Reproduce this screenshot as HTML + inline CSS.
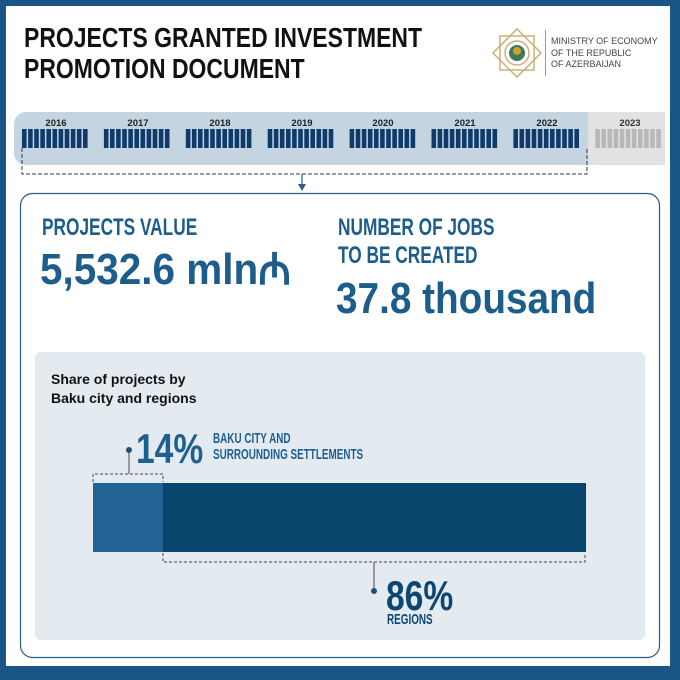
<!DOCTYPE html>
<html><head><meta charset="utf-8"><style>
*{margin:0;padding:0;box-sizing:border-box}
body{width:680px;height:680px;background:#1b5585;position:relative;overflow:hidden;font-family:"Liberation Sans",sans-serif}
.a{position:absolute}
.c{transform-origin:0 0;white-space:nowrap;font-weight:bold}
</style></head><body>
<div class="a" style="left:6px;top:6px;width:664px;height:660px;background:#fff"></div>
<div class="a c" style="left:24px;top:22px;font-size:28px;line-height:31px;color:#111;transform:scaleX(0.82)">PROJECTS GRANTED INVESTMENT<br>PROMOTION DOCUMENT</div>
<svg class="a" style="left:490px;top:26px" width="54" height="54" viewBox="0 0 54 54"><g fill="none" stroke="#c8b27a" stroke-width="1.5"><rect x="10" y="10" width="34" height="34"/><rect x="10" y="10" width="34" height="34" transform="rotate(45 27 27)"/><circle cx="27" cy="27" r="12"/></g><circle cx="27" cy="27" r="8" fill="#3a7a5a"/><circle cx="27" cy="25" r="4" fill="#d0a030"/></svg>
<div class="a" style="left:545px;top:30px;width:1px;height:46px;background:#999"></div>
<div class="a" style="left:551px;top:36px;font-size:9px;line-height:11.5px;color:#444">MINISTRY OF ECONOMY<br>OF THE REPUBLIC<br>OF AZERBAIJAN</div>
<div class="a" style="left:14px;top:112px;width:580px;height:53px;background:#c4d5e1;border-radius:12px 0 0 12px"></div>
<div class="a" style="left:588px;top:112px;width:77px;height:53px;background:#e2e2e2"></div>
<svg class="a" style="left:0;top:0" width="680" height="680">
<g font-family="Liberation Sans" font-weight="bold" font-size="9.5" text-anchor="middle" fill="#222">
<text x="56" y="126">2016</text><text x="138" y="126">2017</text><text x="220" y="126">2018</text><text x="302" y="126">2019</text><text x="383" y="126">2020</text><text x="465" y="126">2021</text><text x="547" y="126">2022</text><text x="630" y="126" fill="#333">2023</text></g>
<g id="bars"></g>
<path d="M22 148 V174 H587 V148" fill="none" stroke="#336" stroke-width="1" stroke-dasharray="4 2"/>
<line x1="302" y1="174" x2="302" y2="186" stroke="#2a5d8a" stroke-width="1.2"/>
<path d="M298 184 L306 184 L302 191Z" fill="#2a5d8a"/>
<rect x="20.5" y="193.5" width="639" height="464" rx="12" fill="#fff" stroke="#2a5d8a" stroke-width="1.2"/>
<rect x="35" y="352" width="610" height="288" rx="6" fill="#e3ebf1"/>
<path d="M93 482 V474 H163 V482" fill="none" stroke="#445" stroke-dasharray="3 2"/>
<line x1="129" y1="474" x2="129" y2="452" stroke="#445"/><circle cx="129" cy="450" r="3" fill="#1f4f77"/>
<rect x="93" y="483" width="70" height="69" fill="#216494"/>
<rect x="163" y="483" width="423" height="69" fill="#08466e"/>
<path d="M163 553 V562 H585 V553" fill="none" stroke="#445" stroke-dasharray="3 2"/>
<line x1="374" y1="562" x2="374" y2="590" stroke="#445"/><circle cx="374" cy="591" r="3" fill="#1f4f77"/>
</svg>
<div class="a c" style="left:42px;top:214px;font-size:24px;color:#1c5d8c;transform:scaleX(0.72)">PROJECTS VALUE</div>
<div class="a c" style="left:40px;top:237px;font-size:44px;color:#1c5d8c;transform:scaleX(0.92)">5,532.6 mln₼</div>
<div class="a c" style="left:338px;top:214px;font-size:24px;line-height:28px;color:#1c5d8c;transform:scaleX(0.72)">NUMBER OF JOBS<br>TO BE CREATED</div>
<div class="a c" style="left:336px;top:274px;font-size:44px;color:#1c5d8c;transform:scaleX(0.88)">37.8 thousand</div>
<div class="a" style="left:51px;top:370px;font-size:14px;line-height:19px;font-weight:bold;color:#111">Share of projects by<br>Baku city and regions</div>
<div class="a c" style="left:136px;top:425px;font-size:42px;color:#1f5f90;transform:scaleX(0.8)">14%</div>
<div class="a c" style="left:213px;top:431px;font-size:15px;line-height:16px;color:#1f5f90;transform:scaleX(0.66)">BAKU CITY AND<br>SURROUNDING SETTLEMENTS</div>
<div class="a c" style="left:386px;top:572px;font-size:42px;color:#0d4670;transform:scaleX(0.8)">86%</div>
<div class="a c" style="left:387px;top:611px;font-size:15px;color:#0d4670;transform:scaleX(0.66)">REGIONS</div>
<script>
var g=document.getElementById('bars'),s='';
for(var y=0;y<8;y++){var x0=22+y*81.9;var col=y<7?'#0f3a6a':'#b8b8b8';for(var i=0;i<11;i++){s+='<rect x="'+(x0+i*6.1)+'" y="129" width="4.6" height="19" fill="'+col+'"/>';}}
g.innerHTML=s;
</script>
</body></html>
